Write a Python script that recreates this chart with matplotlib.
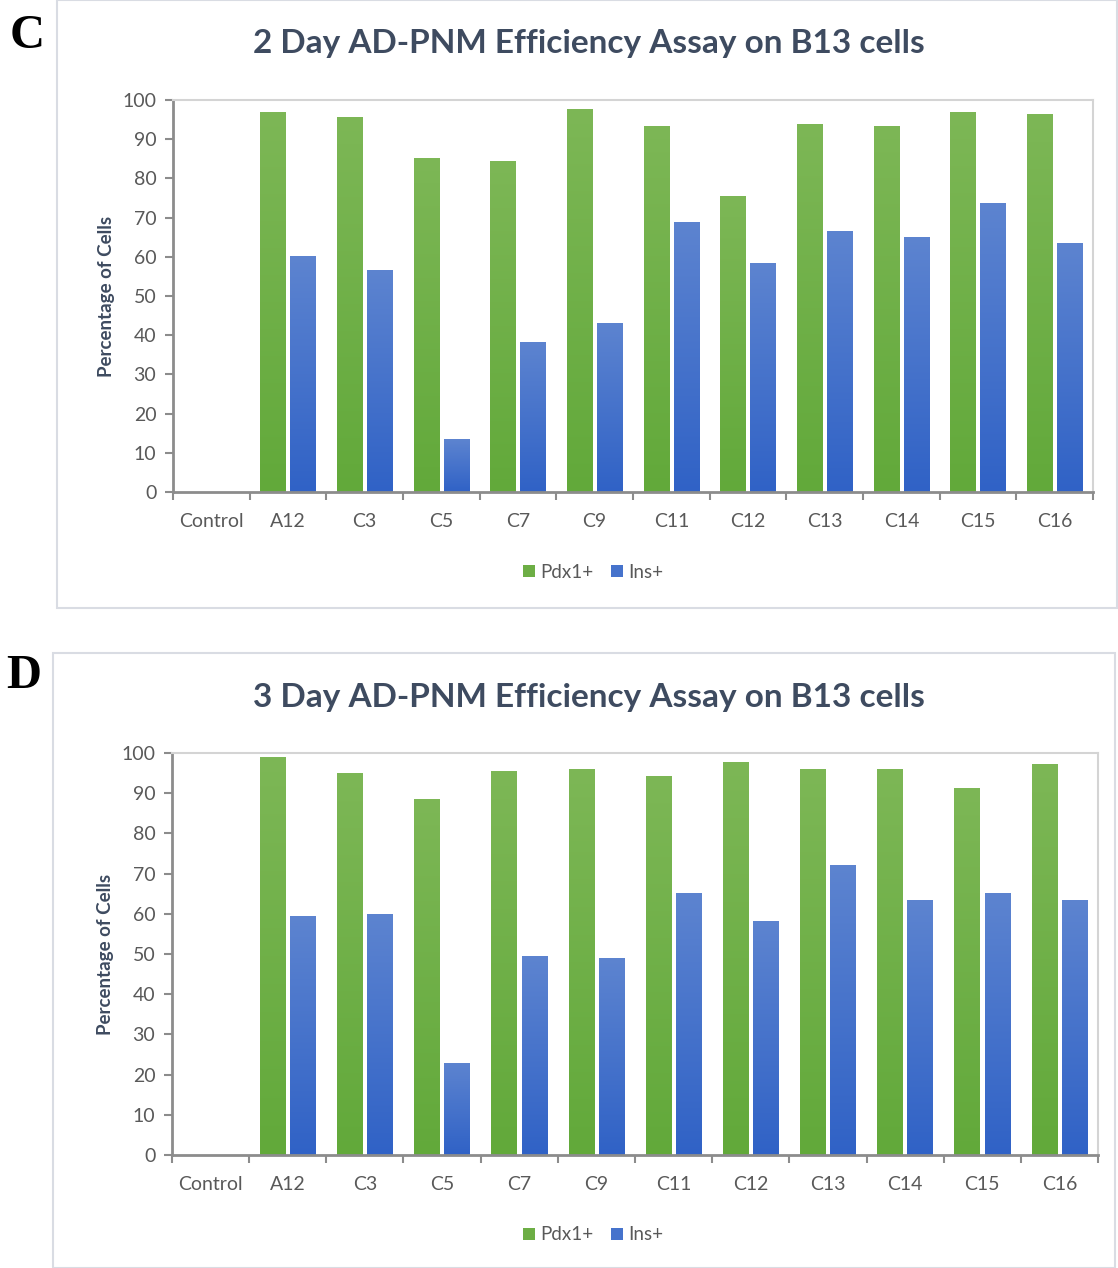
import numpy as np
import matplotlib.pyplot as plt
from matplotlib.patches import Rectangle
from matplotlib.colors import LinearSegmentedColormap

categories = ['Control', 'A12', 'C3', 'C5', 'C7', 'C9', 'C11', 'C12', 'C13', 'C14', 'C15', 'C16']

pdx1_2day = [0, 96.9, 95.7, 85.1, 84.5, 97.6, 93.4, 75.6, 94.0, 93.4, 97.0, 96.4]
ins_2day = [0, 60.2, 56.7, 13.5, 38.3, 43.2, 69.0, 58.5, 66.7, 65.0, 73.8, 63.6]

pdx1_3day = [0, 98.9, 95.0, 88.5, 95.5, 95.9, 94.3, 97.8, 95.9, 95.9, 91.2, 97.3]
ins_3day = [0, 59.5, 60.0, 23.0, 49.5, 49.0, 65.2, 58.3, 72.2, 63.5, 65.2, 63.5]

titles = ['2 Day AD-PNM Efficiency Assay on B13 cells',
          '3 Day AD-PNM Efficiency Assay on B13 cells']
letters = ['C', 'D']

GREEN = '#6dae45'
BLUE = '#4673cc'
green_cm = LinearSegmentedColormap.from_list('g', ['#62a93a', '#7db756'])
blue_cm = LinearSegmentedColormap.from_list('b', ['#3062c6', '#5d84d0'])
TITLE_C = '#3e4b60'
TICK_C = '#595959'

W, H = 1118, 1268
fig = plt.figure(figsize=(W / 100, H / 100), dpi=100)
plt.rcParams['font.family'] = ['Lato', 'DejaVu Sans']


def px(x0, y0, x1, y1):
    # pixel box (top-left origin) -> figure fraction rect
    return [x0 / W, 1 - y1 / H, (x1 - x0) / W, (y1 - y0) / H]


def shade(ax, bars, cmap):
    # vertical gradient fill, clipped to each bar
    grad = np.linspace(0, 1, 256).reshape(-1, 1)
    for b in bars:
        if b.get_height() <= 0:
            continue
        x0, y0 = b.get_x(), b.get_y()
        im = ax.imshow(grad, cmap=cmap, origin='lower', aspect='auto',
                       extent=(x0, x0 + b.get_width(), y0, y0 + b.get_height()), zorder=b.get_zorder())
        im.set_clip_path(b)


panels = [
    dict(frame=(57, 0, 1117, 608), ax=(173, 100, 1093, 492), title_y=44, legend_y=572,
         letter=(10, 36), data=(pdx1_2day, ins_2day)),
    dict(frame=(53, 653, 1115, 1268), ax=(172, 753, 1098, 1155), title_y=698, legend_y=1235,
         letter=(6, 676), data=(pdx1_3day, ins_3day)),
]

for i, p in enumerate(panels):
    fx0, fy0, fx1, fy1 = p['frame']
    fig.patches.append(Rectangle((fx0 / W, 1 - fy1 / H), (fx1 - fx0) / W, (fy1 - fy0) / H,
                                 transform=fig.transFigure, fill=False,
                                 edgecolor='#d9dce3', linewidth=1.5))
    fig.text(p['letter'][0] / W, 1 - p['letter'][1] / H, letters[i], family='Liberation Serif',
             fontweight='bold', fontsize=35, va='center', ha='left', color='black')
    fig.text(589 / W, 1 - p['title_y'] / H, titles[i], fontsize=24, fontweight='bold',
             color=TITLE_C, ha='center', va='center')

    ax = fig.add_axes(px(*p['ax']))
    pdx, ins = p['data']
    x = np.arange(len(categories))
    w = 0.33
    b1 = ax.bar(x - 0.195, pdx, w, color=GREEN, label='Pdx1+')
    b2 = ax.bar(x + 0.195, ins, w, color=BLUE, label='Ins+')
    shade(ax, b1, green_cm)
    shade(ax, b2, blue_cm)

    ax.set_xlim(-0.5, len(categories) - 0.5)
    ax.set_ylim(0, 100)
    ax.set_yticks(range(0, 101, 10))
    ax.set_xticks(x)
    ax.set_xticklabels(categories)
    ax.set_xticks(np.arange(-0.5, len(categories), 1), minor=True)
    ax.tick_params(axis='x', which='major', length=0, pad=15, labelsize=14, labelcolor=TICK_C)
    ax.tick_params(axis='x', which='minor', length=6, width=1.5, color='#8c8c8c', direction='out')
    ax.tick_params(axis='y', length=6, width=1.5, color='#8c8c8c', pad=6,
                   labelsize=14, labelcolor=TICK_C)
    for s in ['left', 'bottom']:
        ax.spines[s].set_color('#8c8c8c')
        ax.spines[s].set_linewidth(2)
    for s in ['top', 'right']:
        ax.spines[s].set_color('#d4d4d4')
        ax.spines[s].set_linewidth(1.5)
    ax.set_ylabel('Percentage of Cells', fontsize=13.5, fontweight='bold', color=TITLE_C, labelpad=5)

    fig.legend(handles=[b1, b2], labels=['Pdx1+', 'Ins+'], loc='center',
               bbox_to_anchor=(593 / W, 1 - p['legend_y'] / H), ncol=2, frameon=False,
               fontsize=13.5, labelcolor=TICK_C, handlelength=0.65, handleheight=0.65,
               handletextpad=0.3, columnspacing=0.9)

fig.savefig('out.png', dpi=100)
